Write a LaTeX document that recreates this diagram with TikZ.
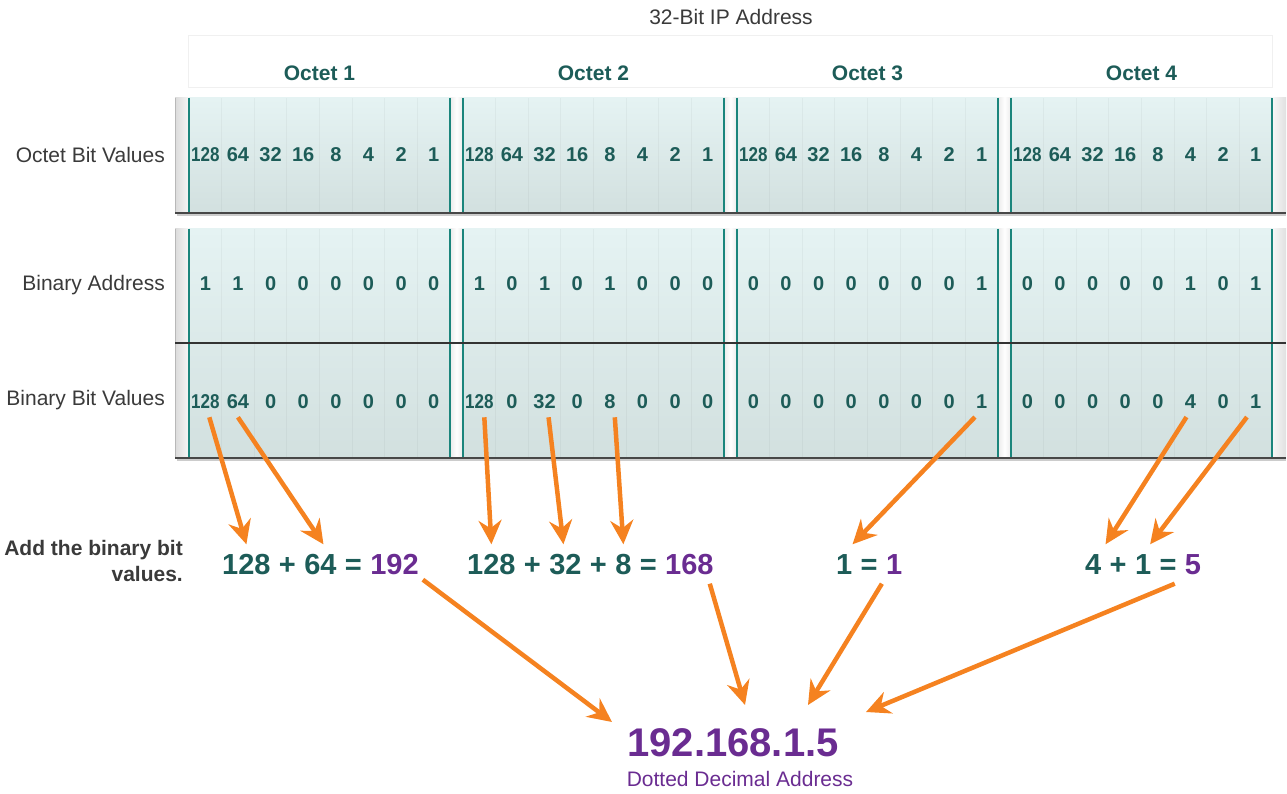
\documentclass[tikz,border=0pt]{standalone}
\usepackage{fontspec}
\usepackage{graphicx}
\setmainfont{Liberation Sans}
\usetikzlibrary{arrows.meta,calc}

\definecolor{tealtxt}{RGB}{29,92,88}
\definecolor{tealline}{RGB}{27,133,124}
\definecolor{cellTop}{RGB}{229,243,243}
\definecolor{cellBot}{RGB}{210,224,223}
\definecolor{ipurple}{RGB}{106,44,145}
\definecolor{iorange}{RGB}{245,130,32}
\definecolor{labelgray}{RGB}{58,58,58}

% 128 is set a little narrower so it fits its column
\newcommand\bitnum[1]{\ifnum#1=128 \scalebox{0.85}[1]{128}\else #1\fi}

\begin{document}
\begin{tikzpicture}[x=1pt,y=-1pt,
  bitval/.style={font=\fontsize{20}{20}\selectfont\bfseries, text=tealtxt,
    inner xsep=1pt, inner ysep=8pt},
  sumpart/.style={font=\fontsize{29}{29}\selectfont\bfseries, text=tealtxt,
    inner xsep=4pt, inner ysep=9pt, text height=21pt, text depth=0pt, anchor=west},
  sumres/.style={sumpart, text=ipurple},
  rowlabel/.style={font=\fontsize{21}{21}\selectfont, text=labelgray, anchor=east, inner sep=0pt},
  octhead/.style={font=\fontsize{21}{21}\selectfont\bfseries, text=tealtxt},
  arr/.style={draw=iorange, line width=4.5pt, -{Stealth[length=24pt,width=23pt,inset=8pt]}},
]
\useasboundingbox (0,0) rectangle (1287,794);

% title and header strip
\node[font=\fontsize{21}{21}\selectfont, text=labelgray] (title) at (731,17) {32-Bit IP Address};
\draw[black!6, line width=1pt, fill=white] (188,36) rectangle (1272,88);
\foreach \o in {1,2,3,4} {
  \pgfmathsetmacro\hx{189+274*(\o-1)+130.5}
  \node[octhead] (oct-\o) at (\hx,73) {Octet \o};
}

% the two table panels
\foreach \yt/\yb in {98/213, 229/458} {
  \fill[left color=black!14, right color=black!3] (175,\yt) rectangle (189,\yb);
  \draw[black!28, line width=0.8pt] (175.4,\yt) -- (175.4,\yb);
  \fill[left color=black!3, right color=black!12] (1272,\yt) rectangle (1286,\yb);
  \foreach \gx in {450,724,998} {
    \fill[left color=black!8, right color=black!8, middle color=white] (\gx,\yt) rectangle (\gx+13,\yb);
  }
  \foreach \o in {1,2,3,4} {
    \pgfmathsetmacro\ox{189+274*(\o-1)}
    \fill[top color=cellTop, bottom color=cellBot] (\ox,\yt) rectangle (\ox+261,\yb);
    \foreach \k in {1,...,7} {
      \draw[black, opacity=0.035, line width=0.8pt] (\ox+32.625*\k,\yt) -- (\ox+32.625*\k,\yb);
    }
    \draw[tealline, line width=2pt] (\ox,\yt) -- (\ox,\yb);
    \draw[tealline, line width=2pt] (\ox+261,\yt) -- (\ox+261,\yb);
  }
  \draw[black!20, line width=2.5pt] (177,\yb+2.2) -- (1286,\yb+2.2);
  \draw[black!72, line width=1.8pt] (175,\yb) -- (1286,\yb);
}
\draw[black!80, line width=1.2pt] (175,343) -- (1286,343);

% row labels
\node[rowlabel] (lab-ov) at (165,155) {Octet Bit Values};
\node[rowlabel] (lab-ba) at (165,285) {Binary Address};
\node[rowlabel] (lab-bb) at (165,400) {Binary Bit Values};

% cell values
\foreach \o/\bits/\vals in {
    1/{1,1,0,0,0,0,0,0}/{128,64,0,0,0,0,0,0},
    2/{1,0,1,0,1,0,0,0}/{128,0,32,0,8,0,0,0},
    3/{0,0,0,0,0,0,0,1}/{0,0,0,0,0,0,0,1},
    4/{0,0,0,0,0,1,0,1}/{0,0,0,0,0,4,0,1}} {
  \pgfmathsetmacro\ox{189+274*(\o-1)}
  \foreach \v [count=\c] in {128,64,32,16,8,4,2,1} {
    \pgfmathsetmacro\cx{\ox+32.625*(\c-0.5)}
    \node[bitval] (ov-\o-\c) at (\cx,155) {\bitnum{\v}};
  }
  \foreach \b [count=\c] in \bits {
    \pgfmathsetmacro\cx{\ox+32.625*(\c-0.5)}
    \node[bitval] (ba-\o-\c) at (\cx,284) {\b};
  }
  \foreach \v [count=\c] in \vals {
    \pgfmathsetmacro\cx{\ox+32.625*(\c-0.5)}
    \node[bitval] (bb-\o-\c) at (\cx,402) {\bitnum{\v}};
  }
}

% sums
\node[font=\fontsize{21}{26}\selectfont\bfseries, text=labelgray, align=right, anchor=east, inner sep=0pt]
  (addlbl) at (183,561) {Add the binary bit\\values.};

\node[sumpart] (s1a) at (218,564) {128};
\node[sumpart] (s1b) at (s1a.east) {+};
\node[sumpart] (s1c) at (s1b.east) {64};
\node[sumpart] (s1d) at (s1c.east) {=};
\node[sumres]  (s1e) at (s1d.east) {192};

\node[sumpart] (s2a) at (463,564) {128};
\node[sumpart] (s2b) at (s2a.east) {+};
\node[sumpart] (s2c) at (s2b.east) {32};
\node[sumpart] (s2d) at (s2c.east) {+};
\node[sumpart] (s2e) at (s2d.east) {8};
\node[sumpart] (s2f) at (s2e.east) {=};
\node[sumres]  (s2g) at (s2f.east) {168};

\node[sumpart] (s3a) at (832,564) {1};
\node[sumpart] (s3b) at (s3a.east) {=};
\node[sumres]  (s3c) at (s3b.east) {1};

\node[sumpart] (s4a) at (1081,564) {4};
\node[sumpart] (s4b) at (s4a.east) {+};
\node[sumpart] (s4c) at (s4b.east) {1};
\node[sumpart] (s4d) at (s4c.east) {=};
\node[sumres]  (s4e) at (s4d.east) {5};

% result
\node[font=\fontsize{40}{40}\selectfont\bfseries, text=ipurple, inner sep=0pt] (ip) at (733,743) {192.168.1.5};
\node[font=\fontsize{21}{21}\selectfont, text=ipurple, inner sep=0pt] (dda) at (740,779) {Dotted Decimal Address};

\coordinate (ip-in-1) at (612,722);
\coordinate (ip-in-2) at (745,705);
\coordinate (ip-in-3) at (808,705);
\coordinate (ip-in-4) at (866,712);

% arrows from bit values to the sums
\draw[arr] ([xshift=4pt]bb-1-1.south) -- (s1a.north);
\draw[arr] (bb-1-2.south) -- ([xshift=3pt]s1c.north);
\draw[arr] ([xshift=5pt]bb-2-1.south) -- (s2a.north);
\draw[arr] ([xshift=4pt]bb-2-3.south) -- ([xshift=-2pt]s2c.north);
\draw[arr] ([xshift=5pt]bb-2-5.south) -- (s2e.north);
\draw[arr] (bb-3-8.south west) -- ([xshift=-4pt]s3a.north east);
\draw[arr] ([xshift=-4pt]bb-4-6.south) -- (s4a.north east);
\draw[arr] ([xshift=-2pt]bb-4-8.south west) -- ([xshift=7pt]s4c.north);

% arrows from the sums to the address
\draw[arr] ([yshift=4pt]s1e.south east) -- (ip-in-1);
\draw[arr] ([xshift=-8pt]s2g.south east) -- (ip-in-2);
\draw[arr] (s3c.south west) -- (ip-in-3);
\draw[arr] ([xshift=-6pt]s4e.south west) -- (ip-in-4);
\end{tikzpicture}
\end{document}
